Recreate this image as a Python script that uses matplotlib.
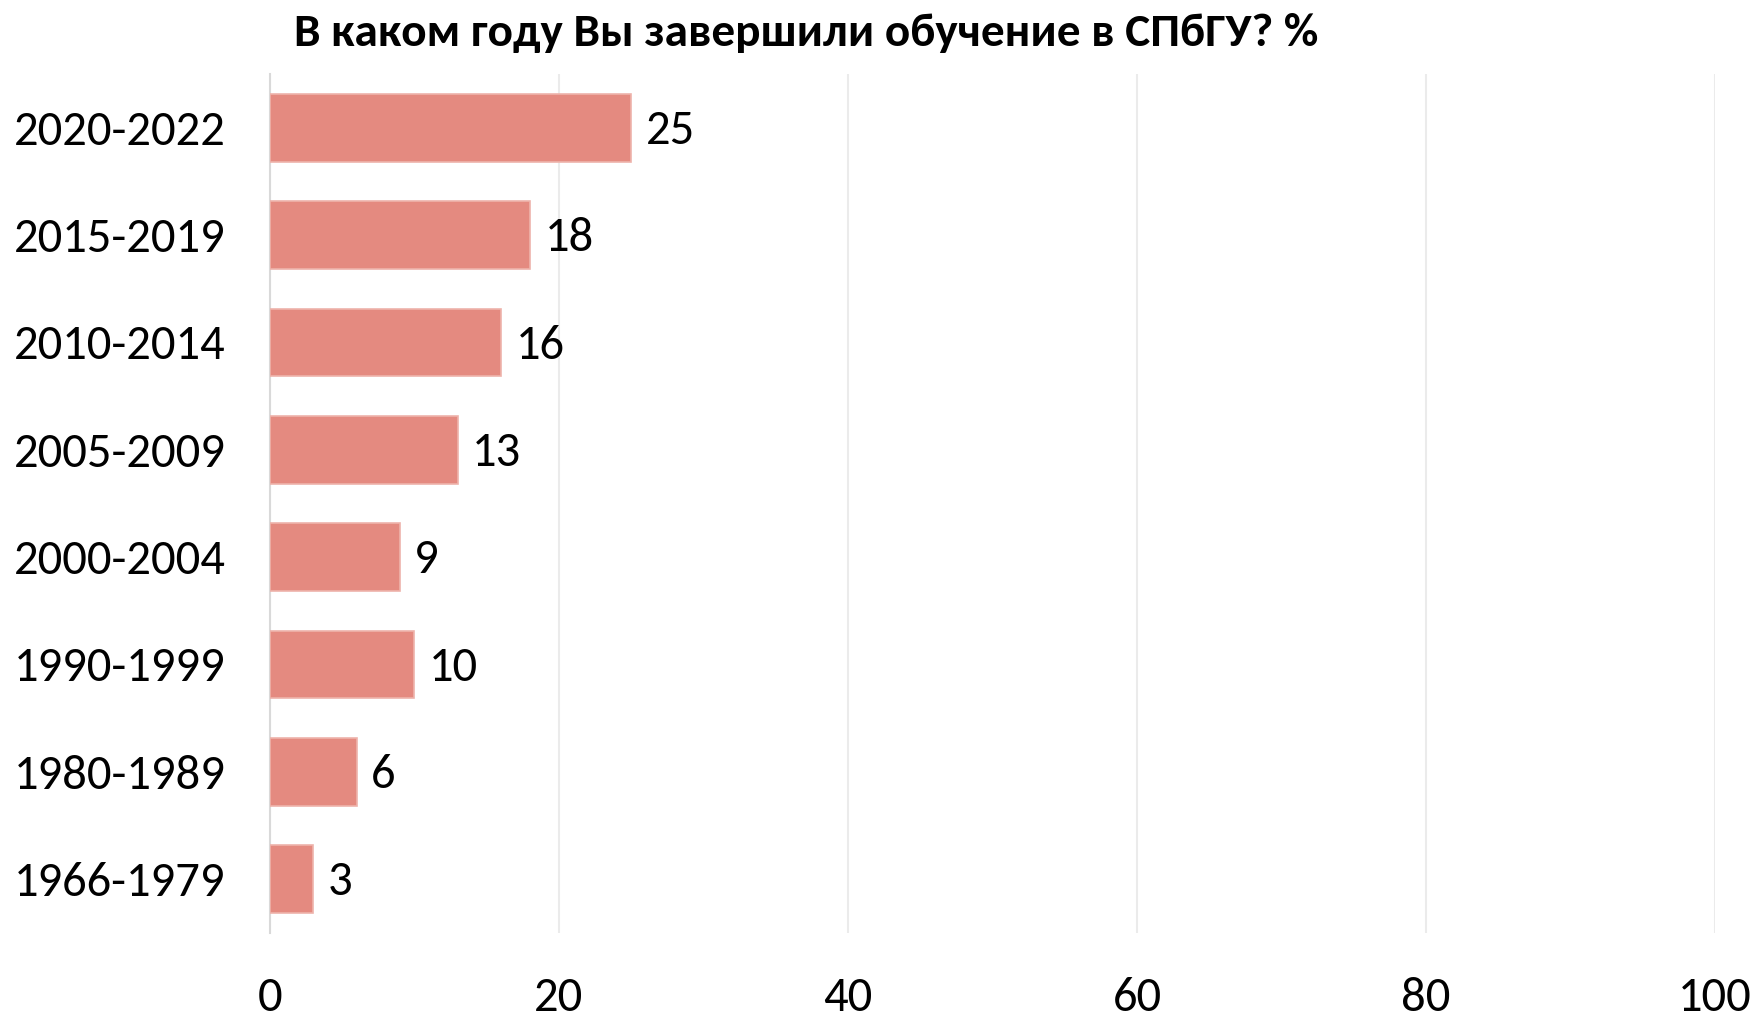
import matplotlib.pyplot as plt

periods = ['2020-2022', '2015-2019', '2010-2014', '2005-2009',
           '2000-2004', '1990-1999', '1980-1989', '1966-1979']
shares = [25, 18, 16, 13, 9, 10, 6, 3]
ticks = [0, 20, 40, 60, 80, 100]

plt.rcParams['font.family'] = ['Carlito', 'DejaVu Sans']

fig = plt.figure(figsize=(17.52, 10.16), dpi=100)
ax = fig.add_axes([0.154, 0.082, 0.825, 0.845])

y = range(len(periods))
bars = ax.barh(y, shares, height=0.63, color='#e48a80',
               edgecolor='#eeb3ab', linewidth=1.2, zorder=3)
for b, v in zip(bars, shares):
    ax.text(b.get_width() + 1.0, b.get_y() + b.get_height() / 2 + 0.03, str(v),
            va='center', ha='left', fontsize=35)

ax.set_ylim(len(periods) - 0.5, -0.5)
ax.set_xlim(0, 100)
ax.set_yticks(list(y))
ax.set_yticklabels(periods, fontsize=35)
ax.set_xticks(ticks)
ax.set_xticklabels([str(t) for t in ticks], fontsize=35)
ax.tick_params(axis='y', length=0, pad=32)
ax.tick_params(axis='x', length=0, pad=32)
ax.grid(axis='x', color='#ebebeb', linewidth=1.5, zorder=0)
for s in ['top', 'right', 'bottom']:
    ax.spines[s].set_visible(False)
ax.spines['left'].set_color('#d9d9d9')
ax.spines['left'].set_linewidth(1.5)

fig.text(0.46, 0.968, 'В каком году Вы завершили обучение в СПбГУ? %',
         ha='center', va='center', fontsize=34, fontweight='bold')

fig.savefig('out.png', dpi=100)
